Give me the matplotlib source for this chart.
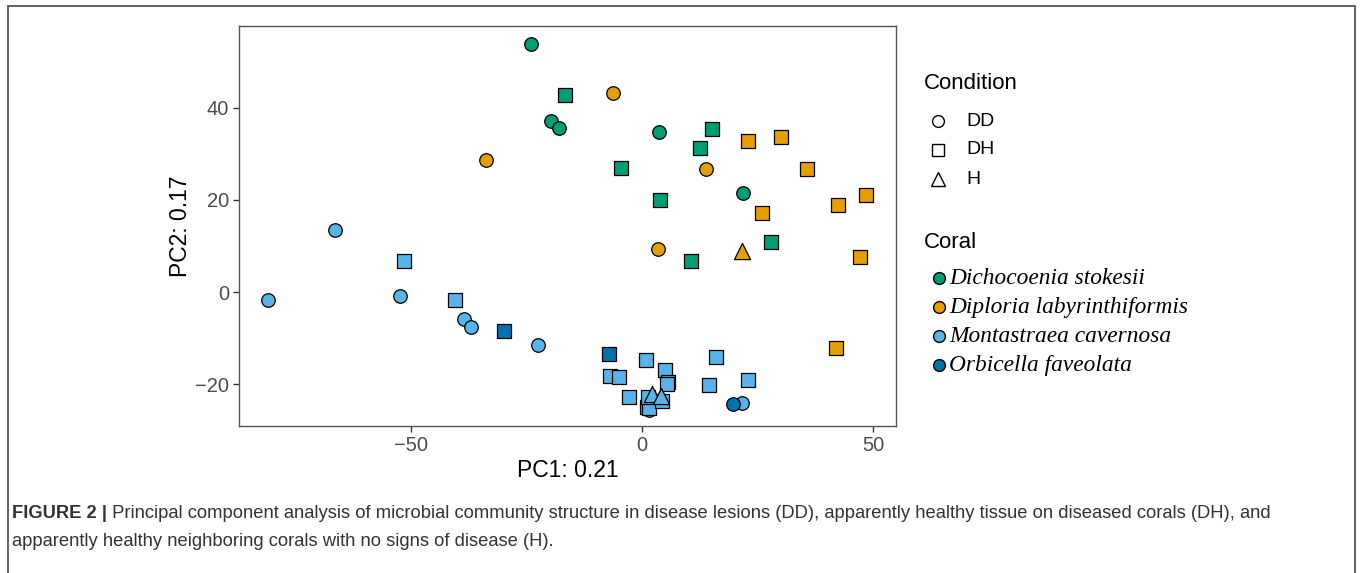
import matplotlib
matplotlib.use("Agg")
import matplotlib.pyplot as plt
from matplotlib.lines import Line2D
from matplotlib.patches import Rectangle

# [ DATA ]  PC1 / PC2
#=============================================================================================================================
corals = [ "Dichocoenia stokesii", "Diploria labyrinthiformis", "Montastraea cavernosa", "Orbicella faveolata" ]
coral_colors = [ "#009E73", "#E69F00", "#56B4E9", "#0072B2" ]
conditions = [ "DD", "DH", "H" ]

# Dichocoenia stokesii
dst_dd_x = [ -24.0, -19.8, -18.0, 3.6, 21.9 ]
dst_dd_y = [ 53.8, 37.1, 35.5, 34.7, 21.4 ]
dst_dh_x = [ -16.7, 15.1, 12.5, -4.6, 3.9, 27.9, 10.7 ]
dst_dh_y = [ 42.7, 35.3, 31.3, 26.9, 19.9, 10.8, 6.7 ]

# Diploria labyrinthiformis
dla_dd_x = [ -6.2, -33.8, 13.9, 3.4 ]
dla_dd_y = [ 43.2, 28.6, 26.6, 9.4 ]
dla_dh_x = [ 23.0, 30.2, 35.7, 25.9, 42.4, 48.5, 47.2, 42.0 ]
dla_dh_y = [ 32.7, 33.6, 26.8, 17.2, 18.9, 21.0, 7.6, -12.1 ]
dla_h_x = [ 21.6 ]
dla_h_y = [ 9.0 ]

# Montastraea cavernosa
mca_dd_x = [ -66.4, -81.0, -52.5, -38.6, -37.1, -22.5, 21.7, 1.5 ]
mca_dd_y = [ 13.4, -1.7, -0.9, -5.7, -7.5, -11.4, -24.0, -25.5 ]
mca_dh_x = [ -51.5, -40.6, 0.75, 4.9, -7.0, -5.1, 5.6, 5.3, 16.0, 14.6, 23.0, -2.9, 1.0, 1.6, 4.4, 1.2 ]
mca_dh_y = [ 6.8, -1.7, -14.7, -16.8, -18.1, -18.4, -19.4, -19.9, -14.0, -20.2, -19.0, -22.7, -24.8, -25.0, -23.5, -22.7 ]
mca_h_x = [ 2.2, 4.2 ]
mca_h_y = [ -22.0, -22.6 ]

# Orbicella faveolata
ofa_dd_x = [ 19.6 ]
ofa_dd_y = [ -24.3 ]
ofa_dh_x = [ -29.8, -7.1 ]
ofa_dh_y = [ -8.4, -13.5 ]

caption_bold = "FIGURE 2 |"
caption_line1 = ( " Principal component analysis of microbial community structure in disease lesions (DD), "
                  "apparently healthy tissue on diseased corals (DH), and" )
caption_line2 = "apparently healthy neighboring corals with no signs of disease (H)."


# [ PLOT ]
#=============================================================================================================================
plt.rcParams[ "font.family" ] = [ "Liberation Sans", "DejaVu Sans" ]

fig = plt.figure( figsize = ( 13.6, 5.73 ), dpi = 100 )
ax = fig.add_axes( [ 239 / 1360, 1 - 426 / 573, ( 896 - 239 ) / 1360, ( 426 - 26 ) / 573 ] )

markers = { "DD": "o", "DH": "s", "H": "^" }
sizes = { "DD": 95, "DH": 90, "H": 135 }

groups = [ ( 0, "DD", dst_dd_x, dst_dd_y ), ( 0, "DH", dst_dh_x, dst_dh_y ),
           ( 1, "DD", dla_dd_x, dla_dd_y ), ( 1, "DH", dla_dh_x, dla_dh_y ), ( 1, "H", dla_h_x, dla_h_y ),
           ( 2, "DD", mca_dd_x, mca_dd_y ), ( 2, "DH", mca_dh_x, mca_dh_y ), ( 2, "H", mca_h_x, mca_h_y ),
           ( 3, "DD", ofa_dd_x, ofa_dd_y ), ( 3, "DH", ofa_dh_x, ofa_dh_y ) ]

for ci, cond, xs, ys in groups:
    ax.scatter( xs, ys, s = sizes[ cond ], marker = markers[ cond ], c = coral_colors[ ci ],
                edgecolors = "black", linewidths = 0.9, zorder = 3 )

ax.set_xlim( -87.3, 55.0 )
ax.set_ylim( -29.0, 57.7 )
ax.set_xticks( [ -50, 0, 50 ] )
ax.set_yticks( [ -20, 0, 20, 40 ] )
ax.set_xticklabels( [ "\u221250", "0", "50" ] )
ax.set_yticklabels( [ "\u221220", "0", "20", "40" ] )

for sp in ax.spines.values():
    sp.set_color( "#555555" )
    sp.set_linewidth( 1.0 )

ax.tick_params( direction = "out", length = 4, width = 1.0, colors = "#333333",
                labelcolor = "#4D4D4D", labelsize = 14.5, pad = 3 )

ax.set_xlabel( "PC1: 0.21", fontsize = 16.5, color = "black", labelpad = 3 )
ax.set_ylabel( "PC2: 0.17", fontsize = 16.5, color = "black", labelpad = 2 )


# LEGEND (drawn by hand, ggplot style)
#^^^^^^^^^^^^^^^^^^^^^^^^^^^^^^^^^^^^^^^^^^^^^^^^^^^^^^^^^^^^^^^^^^^^^^^^^^^^^^^^^^^^^^^^^^^^^^^^^^^^^^^^
W, H = 1360, 573

def fx( px ): return px / W
def fy( py ): return 1 - py / H

fig.text( fx( 924 ), fy( 84 ), "Condition", fontsize = 16, va = "center", ha = "left" )
for i, cond in enumerate( conditions ):
    yy = 121 + i * 29
    fig.add_artist( Line2D( [ fx( 938 ) ], [ fy( yy ) ], marker = markers[ cond ], linestyle = "none",
                            markersize = 10 if cond == "H" else 8.5, markerfacecolor = "white",
                            markeredgecolor = "black", markeredgewidth = 1.0 ) )
    fig.text( fx( 966 ), fy( yy ), cond, fontsize = 14, va = "center", ha = "left" )

fig.text( fx( 924 ), fy( 242 ), "Coral", fontsize = 16, va = "center", ha = "left" )
for i, name in enumerate( corals ):
    yy = 278 + i * 29
    fig.add_artist( Line2D( [ fx( 939 ) ], [ fy( yy ) ], marker = "o", linestyle = "none",
                            markersize = 8.5, markerfacecolor = coral_colors[ i ],
                            markeredgecolor = "black", markeredgewidth = 1.0 ) )
    fig.text( fx( 949 ), fy( yy ), name, fontsize = 16.8, style = "italic", va = "center", ha = "left",
              family = [ "Liberation Serif", "DejaVu Serif" ] )


# CAPTION + FRAME
#^^^^^^^^^^^^^^^^^^^^^^^^^^^^^^^^^^^^^^^^^^^^^^^^^^^^^^^^^^^^^^^^^^^^^^^^^^^^^^^^^^^^^^^^^^^^^^^^^^^^^^^^
cap_size = 13.2
t_bold = fig.text( fx( 12 ), fy( 514 ), caption_bold, fontsize = cap_size, fontweight = "bold",
                   color = "#333333", va = "center", ha = "left" )
fig.canvas.draw()
bb = t_bold.get_window_extent()
fig.text( ( bb.x1 ) / W, fy( 514 ), caption_line1, fontsize = cap_size, color = "#333333",
          va = "center", ha = "left" )
fig.text( fx( 12 ), fy( 542 ), caption_line2, fontsize = cap_size, color = "#333333",
          va = "center", ha = "left" )

frame = Rectangle( ( fx( 8 ), -0.05 ), fx( 1355 ) - fx( 8 ), fy( 6 ) + 0.05, transform = fig.transFigure,
                   fill = False, edgecolor = "#555555", linewidth = 1.3 )
fig.add_artist( frame )

fig.savefig( "out.png", dpi = 100 )
#^^^^^^^^^^^^^^^^^^^^^^^^^^^^^^^^^^^^^^^^^^^^^^^^^^^^^^^^^^^^^^^^^^^^^^^^^^^^^^^^^^^^^^^^^^^^^^^^^^^^^^^^
#=============================================================================================================================
